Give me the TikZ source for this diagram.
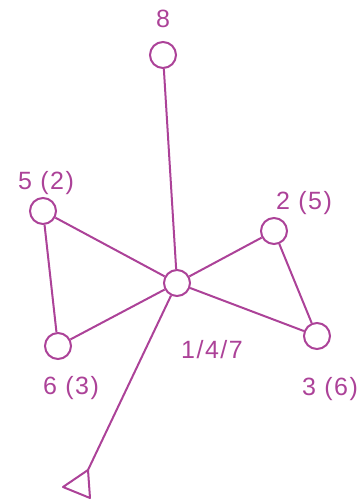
\documentclass[tikz,border=0pt]{standalone}
\usepackage{fontspec}
\setmainfont{Liberation Sans}[LetterSpace=6]
\definecolor{mag}{RGB}{172,66,152}
\begin{document}
\begin{tikzpicture}[x=1pt,y=-1pt,
  vtx/.style={circle,draw=mag,line width=2pt,minimum size=26pt,inner sep=0pt,fill=white},
  lbl/.style={text=mag,font=\fontsize{25}{28}\selectfont,inner sep=0pt},
  edge/.style={draw=mag,line width=2pt}]
\useasboundingbox (0,0) rectangle (359,499);
\node[vtx] (n8) at (163,55) {};
\node[vtx] (n5) at (43,211) {};
\node[vtx] (n2) at (274,231) {};
\node[vtx] (c) at (177,283) {};
\node[vtx] (n6) at (58,346) {};
\node[vtx] (n3) at (317,336) {};
\coordinate (t1) at (88,470);
\coordinate (t2) at (63,487);
\coordinate (t3) at (90,498);
\node[lbl] (l8) at (163,19) {8};
\node[lbl] (l5) at (46,183) {5 (2)};
\node[lbl] (l2) at (304,203) {2 (5)};
\node[lbl] (lc) at (212,350) {1/4/7};
\node[lbl] (l6) at (71,388) {6 (3)};
\node[lbl] (l3) at (330,389) {3 (6)};
\draw[edge] (n8) -- (c);
\draw[edge] (n5) -- (c);
\draw[edge] (n5) -- (n6);
\draw[edge] (n6) -- (c);
\draw[edge] (c) -- (n2);
\draw[edge] (n2) -- (n3);
\draw[edge] (c) -- (n3);
\draw[edge] (c) -- (t1);
\draw[edge,line join=round] (t1) -- (t2) -- (t3) -- cycle;
\end{tikzpicture}
\end{document}
